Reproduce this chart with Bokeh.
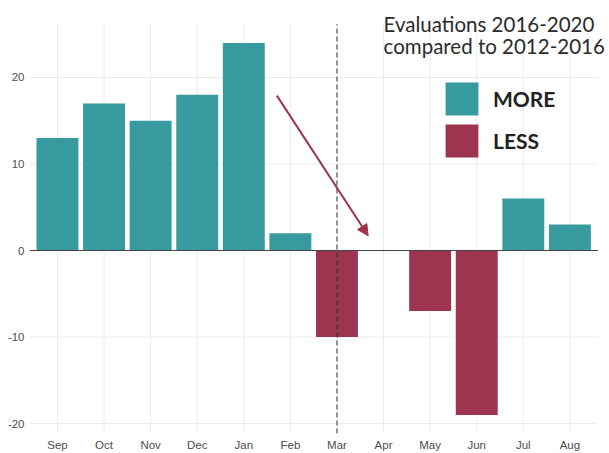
from bokeh.plotting import figure
from bokeh.models import (ColumnDataSource, Range1d, Arrow, NormalHead,
                          Label, Legend, LegendItem)
from bokeh.embed import file_html
from bokeh.resources import INLINE

months = ["Sep", "Oct", "Nov", "Dec", "Jan", "Feb", "Mar", "Apr", "May", "Jun", "Jul", "Aug"]
values = [13, 17, 15, 18, 24, 2, -10, 0, -7, -19, 6, 3]
y_ticks = [-20, -10, 0, 10, 20]
ref_month = "Mar"
arrow_start = (5.71, 17.9)   # (month position, value)
arrow_end = (7.67, 1.7)
title_lines = ["Evaluations 2016-2020", "compared to 2012-2016"]
legend_labels = ["MORE", "LESS"]

TEAL = "#369a9e"
MAROON = "#9d3450"
GRID = "#ebebeb"

pos = list(range(1, len(months) + 1))
X_LO, X_HI = 0.4, len(months) + 0.6           # panel limits (ggplot-like expansion)
Y_LO, Y_HI = -21.15, 26.15

more = ColumnDataSource(dict(x=[x for x, v in zip(pos, values) if v >= 0],
                             v=[v for v in values if v >= 0]))
less = ColumnDataSource(dict(x=[x for x, v in zip(pos, values) if v < 0],
                             v=[v for v in values if v < 0]))

p = figure(x_range=Range1d(X_LO, 12.85), y_range=Range1d(Y_LO, 28.9), width=609, height=453,
           output_backend="svg", toolbar_location=None,
           min_border_left=29, min_border_right=0, min_border_top=0, min_border_bottom=20)
p.outline_line_color = None
p.background_fill_color = "white"
p.border_fill_color = "white"
p.xgrid.visible = False
p.ygrid.visible = False

# panel grid
p.segment(x0=pos, x1=pos, y0=[Y_LO] * len(pos), y1=[Y_HI] * len(pos), line_color=GRID, line_width=1)
p.segment(x0=[X_LO] * len(y_ticks), x1=[X_HI] * len(y_ticks), y0=y_ticks, y1=y_ticks,
          line_color=GRID, line_width=1)

r_more = p.vbar(x="x", top="v", bottom=0, width=0.9, source=more, fill_color=TEAL, line_color=None)
r_less = p.vbar(x="x", top="v", bottom=0, width=0.9, source=less, fill_color=MAROON, line_color=None)

# zero line and reference month
p.segment(x0=[X_LO], x1=[X_HI], y0=[0], y1=[0], line_color="#444444", line_width=1)
mx = months.index(ref_month) + 1
p.segment(x0=[mx], x1=[mx], y0=[Y_LO], y1=[Y_HI], line_color="#333333", line_width=1,
          line_dash="5 3")

p.xaxis.ticker = pos
p.xaxis.major_label_overrides = {x: m for x, m in zip(pos, months)}
p.yaxis.ticker = y_ticks
p.yaxis.major_label_overrides = {t: str(t) for t in y_ticks}

for ax in (p.xaxis[0], p.yaxis[0]):
    ax.axis_line_color = None
    ax.major_tick_line_color = None
    ax.minor_tick_line_color = None
    ax.major_tick_out = 0
    ax.major_tick_in = 0
    ax.minor_tick_out = 0
    ax.minor_tick_in = 0
    ax.major_label_text_font = "Liberation Sans"
    ax.major_label_text_font_size = "11.5px"
    ax.major_label_text_color = "#4d4d4d"
p.xaxis.major_label_standoff = 5
p.yaxis.major_label_standoff = 5

p.add_layout(Arrow(x_start=arrow_start[0], y_start=arrow_start[1],
                   x_end=arrow_end[0], y_end=arrow_end[1],
                   line_color=MAROON, line_width=2,
                   end=NormalHead(size=11, fill_color=MAROON, line_color=MAROON)))

for i, t in enumerate(title_lines):
    p.add_layout(Label(x=8.0, y=27.55 - i * 2.5, text=t, text_font="Lato",
                       text_font_size="20.5px", text_color="#2b2b2b", text_baseline="top"))

legend = Legend(items=[LegendItem(label=legend_labels[0], renderers=[r_more]),
                       LegendItem(label=legend_labels[1], renderers=[r_less])],
                location=(412, 272), glyph_width=41, glyph_height=41, spacing=1,
                label_standoff=11, label_text_font="Lato", label_text_font_style="bold",
                label_text_font_size="21px", label_text_color="#222222",
                border_line_color=None, background_fill_alpha=0, padding=0, margin=0,
                label_height=41)
p.add_layout(legend)

open("out.html", "w").write(file_html(p, INLINE))
